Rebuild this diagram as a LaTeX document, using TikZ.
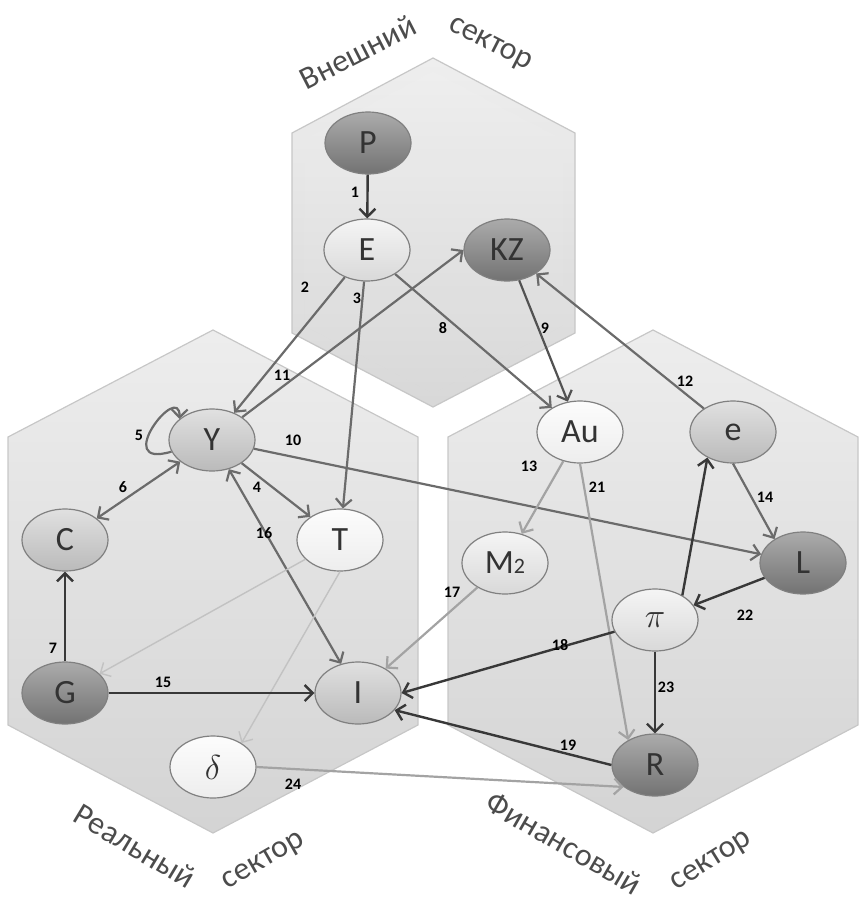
\documentclass[tikz,border=0pt]{standalone}
\usepackage{fontspec}
\setmainfont{Carlito}
\usetikzlibrary{arrows.meta,shapes.geometric}

\begin{document}
\begin{tikzpicture}[x=0.5pt,y=-0.5pt,>={Straight Barb[length=4pt,width=8pt]},
  var/.style={ellipse,draw=black!50,line width=0.6pt,minimum width=43pt,minimum height=31pt,inner sep=0pt,text=black!80,font=\fontsize{17}{17}\selectfont},
  darkvar/.style={var,top color=black!33,bottom color=black!55},
  midvar/.style={var,top color=black!12,bottom color=black!27},
  lightvar/.style={var,top color=black!4,bottom color=black!15},
  whitevar/.style={var,top color=black!1,bottom color=black!7},
  arrdark/.style={->,draw=black!78,line width=1.2pt},
  arrmid/.style={->,draw=black!58,line width=1.1pt},
  arrlight/.style={->,draw=black!36,line width=1.1pt},
  arrpale/.style={->,draw=black!24,line width=0.7pt},
  num/.style={font=\fontsize{8}{8}\selectfont\bfseries,inner sep=1pt},
  sector/.style={font=\fontsize{16}{16}\selectfont,text=black!70,inner sep=0pt},
  hex/.style={draw=black!22,line width=0.6pt,top color=black!7,bottom color=black!17}]
\useasboundingbox (0,0) rectangle (867,900);
% sectors
\path[hex] (213,330) -- (418,437) -- (418,725) -- (213,833) -- (8,725) -- (8,437) -- cycle;
\path[hex] (653,330) -- (858,437) -- (858,725) -- (653,833) -- (448,725) -- (448,437) -- cycle;
\draw[white,line width=12pt,opacity=.85] (433,58) -- (575,133) -- (575,333) -- (433,407) -- (292,333) -- (292,133) -- cycle;
\path[hex,fill opacity=.9] (433,58) -- (575,133) -- (575,333) -- (433,407) -- (292,333) -- (292,133) -- cycle;
\node[sector,rotate=27] (ext1) at (358,52) {Внешний};
\node[sector,rotate=-27] (ext2) at (490,45) {сектор};
\node[sector,rotate=-31] (real1) at (135,846) {Реальный};
\node[sector,rotate=30] (real2) at (264,862) {сектор};
\node[sector,rotate=-30] (fin1) at (564,843) {Финансовый};
\node[sector,rotate=32] (fin2) at (712,862) {сектор};
% variables
\node[darkvar] (P) at (368,143) {P};
\node[lightvar] (E) at (367,250) {E};
\node[darkvar] (KZ) at (507,250) {KZ};
\node[midvar] (Y) at (212,440) {Y};
\node[whitevar] (Au) at (580,432) {Au};
\node[midvar] (e) at (733,432) {e};
\node[midvar] (C) at (65,540) {C};
\node[whitevar] (T) at (340,540) {T};
\node[lightvar] (M) at (505,563) {M{\fontsize{11}{11}\selectfont 2}};
\node[darkvar] (L) at (803,563) {L};
\node[lightvar] (pi) at (655,620) {$\pi$};
\node[darkvar] (G) at (65,693) {G};
\node[midvar] (I) at (358,693) {I};
\node[whitevar] (d) at (213,767) {$\delta$};
\node[darkvar] (R) at (655,765) {R};
% links
\draw[arrdark] (P) -- (E);
\draw[arrmid] (E) -- (Y); \draw[arrmid] (E) -- (T); \draw[arrmid] (E) -- (Au);
\draw[arrmid,draw=black!68] (KZ) -- (Au);
\draw[arrmid] (Y) -- (KZ.west); \draw[arrmid] (e) -- (KZ);
\draw[arrmid] (Y.196) .. controls (110,470) and (180,380) .. (Y.147);
\draw[arrmid,<->] (C) -- (Y); \draw[arrmid] (Y) -- (T); \draw[arrmid] (Y) -- (L);
\draw[arrmid,<->] (Y) -- (I);
\draw[arrlight] (Au) -- (M); \draw[arrlight] (Au.south) -- (R.137);
\draw[arrmid] (e.south) -- (L.140);
\draw[arrdark] (G) -- (C);
\draw[arrpale] (T) -- (G); \draw[arrpale] (T.south) -- (d.40);
\draw[arrlight] (M) -- (I);
\draw[arrdark] (pi) -- (I.east); \draw[arrdark] (R.west) -- (I.-25);
\draw[arrdark] (L) -- (pi); \draw[arrdark] (pi.42) -- (e.-135);
\draw[arrdark] (G) -- (I); \draw[arrdark] (pi) -- (R);
\draw[arrlight] (d.east) -- (R.215);
% numbers
\foreach \n/\x/\y in {1/355/192,2/305/287,3/357/298,4/257/487,5/139/435,6/123/487,7/53/648,8/443/328,
  9/545/328,10/293/440,11/282/375,12/685/381,13/529/466,14/765/497,15/163/682,16/264/533,
  17/452/592,18/560/645,19/568/745,21/597/487,22/745/615,23/666/687,24/293/784}
  \node[num] (l\n) at (\x,\y) {\n};
\end{tikzpicture}
\end{document}
